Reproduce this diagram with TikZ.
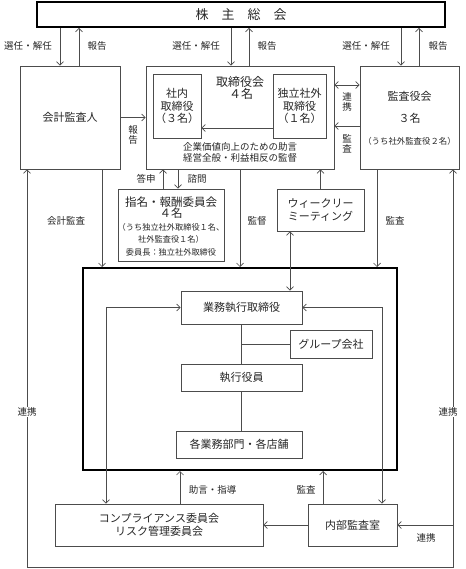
\documentclass[tikz,border=0pt]{standalone}
\usepackage{fontspec}
\setmainfont{Noto Sans CJK JP}
\usetikzlibrary{arrows.meta}
\tikzset{
  box/.style={draw=black!70, line width=.7pt, align=center, inner sep=0pt, text=black!85},
  lbl/.style={font=\fontsize{9.5}{11.5}\selectfont, text=black!85, inner sep=1pt, align=center},
  conn/.style={draw=black!70, line width=.7pt},
  arr/.style={conn, -{Straight Barb[length=3.5pt,width=7pt]}},
  darr/.style={conn, {Straight Barb[length=3.5pt,width=7pt]}-{Straight Barb[length=3.5pt,width=7pt]}},
}
\begin{document}
\begin{tikzpicture}[x=1pt, y=-1pt, font=\fontsize{11}{12.5}\selectfont]
\useasboundingbox (0,0) rectangle (465,569);
\node[box, draw=black, line width=1.8pt, minimum width=408pt, minimum height=25pt, font=\fontsize{13}{14}\selectfont] (kabu) at (241,14.5) {株　主　総　会};
\node[box, minimum width=100pt, minimum height=103pt] (kaikei) at (70,117.5) {会計監査人};
\node[box, minimum width=188pt, minimum height=103pt] (board) at (240,117.5) {};
\node[box, minimum width=48pt, minimum height=64pt] (shanai) at (177,106) {社内\\取締役\\（３名）};
\node[box, minimum width=53pt, minimum height=64pt] (dokuritsu) at (299.5,106) {独立社外\\取締役\\（１名）};
\node[text=black!85, font=\fontsize{12}{12}\selectfont] (boardname) at (240,82) {取締役会};
\node[text=black!85, font=\fontsize{12}{12}\selectfont] (boardnum) at (241,94) {４名};
\node[lbl, font=\fontsize{9.5}{11}\selectfont] (boardtext) at (240,152.5) {企業価値向上のための助言\\経営全般・利益相反の監督};
\node[box, minimum width=99pt, minimum height=103pt] (kansa) at (409.5,117.5) {};
\node[text=black!85] (kansaname) at (409.5,96) {監査役会};
\node[text=black!85] (kansanum) at (409.5,118) {３名};
\node[text=black!85, font=\fontsize{8.4}{10}\selectfont] (kansasub) at (409.5,141) {（うち社外監査役２名）};
\node[box, minimum width=106pt, minimum height=72pt] (shimei) at (171,225) {};
\node[text=black!85, font=\fontsize{11.5}{11.5}\selectfont] (shimeiname) at (171,202) {指名・報酬委員会};
\node[text=black!85, font=\fontsize{11.5}{11.5}\selectfont] (shimeinum) at (171,213.5) {４名};
\node[text=black!85, align=center, font=\fontsize{8.2}{12.5}\selectfont] (shimeisub) at (171,239.5) {（うち独立社外取締役１名、\\社外監査役１名）\\委員長：独立社外取締役};
\node[box, minimum width=87pt, minimum height=42pt] (weekly) at (320.5,210) {ウィークリー\\ミーティング};
% executive part
\node[draw, line width=2pt, minimum width=314pt, minimum height=202pt] (exec) at (240,369) {};
\node[box, minimum width=121pt, minimum height=33pt] (gyomu) at (241.5,307.5) {業務執行取締役};
\node[box, minimum width=82pt, minimum height=28pt] (group) at (331,344) {グループ会社};
\node[box, minimum width=121pt, minimum height=27pt] (shikko) at (241.5,377.5) {執行役員};
\node[box, minimum width=126pt, minimum height=27pt] (bumon) at (239,444.5) {各業務部門・各店舗};
\node[box, minimum width=208pt, minimum height=42pt] (comp) at (159,525) {コンプライアンス委員会\\リスク管理委員会};
\node[box, minimum width=89pt, minimum height=42pt] (naibu) at (352.5,525) {内部監査室};
% shareholders
\draw[arr] ([xshift=-10]kaikei.north |- kabu.south) -- ([xshift=-10]kaikei.north);
\draw[arr] ([xshift=9]kaikei.north) -- ([xshift=9]kaikei.north |- kabu.south);
\draw[arr] ([xshift=-9]board.north |- kabu.south) -- ([xshift=-9]board.north);
\draw[arr] ([xshift=9]board.north) -- ([xshift=9]board.north |- kabu.south);
\draw[arr] ([xshift=-8.5]kansa.north |- kabu.south) -- ([xshift=-8.5]kansa.north);
\draw[arr] ([xshift=9.5]kansa.north) -- ([xshift=9.5]kansa.north |- kabu.south);
\node[lbl] (l1) at (28,46) {選任・解任};
\node[lbl] (l2) at (97,46) {報告};
\node[lbl] (l3) at (196,46) {選任・解任};
\node[lbl] (l4) at (267,46) {報告};
\node[lbl] (l5) at (366,46) {選任・解任};
\node[lbl] (l6) at (438,46) {報告};
% board
\draw[arr] (kaikei.east) -- (board.west);
\node[lbl, font=\fontsize{9.5}{10.5}\selectfont] (l7) at (133,135) {報\\告};
\draw[arr] ([yshift=-22]dokuritsu.west) -- ([yshift=-22]shanai.east);
\draw[darr] ([yshift=32.5]board.east) -- ([yshift=32.5]kansa.west);
\node[lbl, font=\fontsize{9.5}{10.5}\selectfont] (l8) at (347,102) {連\\携};
\draw[arr] ([yshift=-8.5]kansa.west) -- ([yshift=-8.5]board.east);
\node[lbl, font=\fontsize{9.5}{10.5}\selectfont] (l9) at (347,144) {監\\査};
\draw[arr] ([xshift=-8]shimei.north) -- ([xshift=-8]shimei.north |- board.south);
\draw[arr] ([xshift=7]shimei.north |- board.south) -- ([xshift=7]shimei.north);
\node[lbl] (l10) at (146,179) {答申};
\node[lbl] (l11) at (197,179) {諮問};
\draw[arr] (board.south) -- (exec.north);
\node[lbl] (l12) at (257,221) {監督};
\draw[arr] (weekly.north) -- (weekly.north |- board.south);
\draw[darr] ([xshift=-30.5]weekly.south) -- ([xshift=-30.5]weekly.south |- gyomu.north);
\draw[arr] ([xshift=32]kaikei.south) -- ([xshift=32]kaikei.south |- exec.north);
\node[lbl] (l13) at (66,221) {会計監査};
\draw[arr] ([xshift=-32.5]kansa.south) -- ([xshift=-32.5]kansa.south |- exec.north);
\node[lbl] (l14) at (395,221) {監査};
% inside
\draw[conn] (gyomu.south) -- (shikko.north);
\draw[conn] (gyomu.south |- group.west) -- (group.west);
\draw[conn] (shikko.south) -- (shikko.south |- bumon.north);
\draw[darr] (gyomu.west) -| ([xshift=-53]comp.north);
\draw[darr] (gyomu.east) -| ([xshift=29.5]naibu.north);
% bottom
\draw[arr] ([xshift=21]comp.north) -- ([xshift=21]comp.north |- exec.south);
\node[lbl] (l15) at (212.5,490) {助言・指導};
\draw[arr] ([xshift=-29.5]naibu.north) -- ([xshift=-29.5]naibu.north |- exec.south);
\node[lbl] (l16) at (306,490) {監査};
\draw[arr] (naibu.west) -- (comp.east);
\coordinate (loopb) at (0,567);
\draw[darr] ([xshift=-43]kaikei.south) -- ([xshift=-43]kaikei.south |- loopb) -- ([xshift=43.5]kansa.south |- loopb) -- ([xshift=43.5]kansa.south);
\draw[arr] ([xshift=43.5]kansa.south |- naibu.east) -- (naibu.east);
\node[lbl, fill=white] (l17) at (27,412) {連携};
\node[lbl, fill=white] (l18) at (448,412) {連携};
\node[lbl] (l19) at (426,538) {連携};
\end{tikzpicture}
\end{document}
